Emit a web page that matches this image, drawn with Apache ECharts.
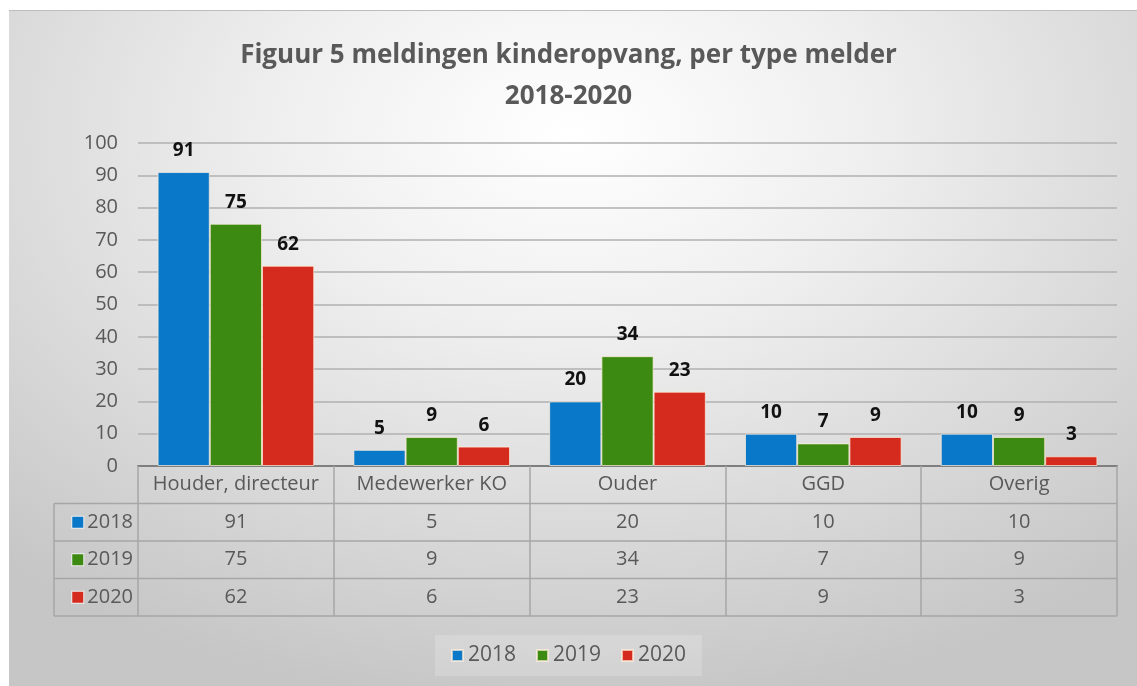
<!DOCTYPE html>
<html>
<head>
<meta charset="utf-8">
<script src="https://cdn.jsdelivr.net/npm/echarts@6/dist/echarts.min.js"></script>
<style>
  html, body { margin: 0; padding: 0; background: #fff; }
  #bg {
    position: absolute; left: 9px; top: 10px; width: 1128px; height: 676px;
    background: radial-gradient(ellipse 75% 85% at 50% 18%, #ffffff 0%, #efefef 35%, #d6d6d6 75%, #c6c6c6 100%);
    border-top: 1px solid #bdbdbd;
  }
  #main { position: absolute; left: 0; top: 0; width: 1137px; height: 686px; }
</style>
</head>
<body>
<div id="bg"></div>
<div id="main"></div>
<script>
// gegevens uit de figuur
var categories = ['Houder, directeur', 'Medewerker KO', 'Ouder', 'GGD', 'Overig'];
var years = ['2018', '2019', '2020'];
var values2018 = [91, 5, 20, 10, 10];
var values2019 = [75, 9, 34, 7, 9];
var values2020 = [62, 6, 23, 9, 3];
var yTicks = [0, 10, 20, 30, 40, 50, 60, 70, 80, 90, 100];

var colors = ['#0a78c8', '#3c8a12', '#d42b1e'];
var allValues = [values2018, values2019, values2020];

var font = 'Open Sans';
var grey = '#595959';
var rowH = 37.5;
var tableTop = 466;
var plotLeft = 138, plotRight = 1117, colLeft = 54;

var myChart = echarts.init(document.getElementById('main'));

// x-assen: 0 = categorieen (kop van de tabel), 1..3 = rijen met waarden
var xAxes = [{
    type: 'category',
    data: categories,
    position: 'bottom',
    axisLine: { lineStyle: { color: '#7f7f7f', width: 2 } },
    axisTick: { show: true, interval: 0, length: rowH * 4, lineStyle: { color: '#a6a6a6', width: 1.5 } },
    axisLabel: { interval: 0, color: grey, fontSize: 20, fontFamily: font, margin: rowH / 2, verticalAlign: 'middle' }
}];
years.forEach(function (y, i) {
    xAxes.push({
        type: 'category',
        data: allValues[i].map(String),
        position: 'bottom',
        offset: rowH * (i + 1) + rowH / 2,
        axisLine: { show: false },
        axisTick: { show: false },
        axisLabel: { interval: 0, color: grey, fontSize: 20, fontFamily: font, margin: 0, verticalAlign: 'middle' },
        name: '{sq|}{t|' + y + '}',
        nameLocation: 'start',
        nameGap: 5,
        nameTextStyle: {
            rich: {
                sq: { width: 11, height: 11, backgroundColor: colors[i], borderColor: '#eee', borderWidth: 1 },
                t: { color: grey, fontSize: 20, fontFamily: font, padding: [0, 0, 0, 4] }
            }
        }
    });
});

// tabelranden
var tableLines = [];
for (var r = 1; r <= 4; r++) {
    var yy = tableTop + rowH * r;
    tableLines.push({ type: 'line', shape: { x1: colLeft, y1: yy, x2: plotRight, y2: yy },
        style: { stroke: '#a6a6a6', lineWidth: 1.5 }, z: 5 });
}
tableLines.push({ type: 'line', shape: { x1: colLeft, y1: tableTop + rowH, x2: colLeft, y2: tableTop + rowH * 4 },
    style: { stroke: '#a6a6a6', lineWidth: 1.5 }, z: 5 });

myChart.setOption({
    textStyle: { fontFamily: font },
    title: {
        text: 'Figuur 5 meldingen kinderopvang, per type melder\n2018-2020',
        left: 'center',
        top: 30,
        textStyle: { color: grey, fontSize: 26, fontWeight: 'bold', fontFamily: font, lineHeight: 41 }
    },
    legend: {
        data: years,
        bottom: 10,
        left: 'center',
        icon: 'rect',
        itemWidth: 11,
        itemHeight: 11,
        itemGap: 20,
        padding: [10, 16],
        backgroundColor: 'rgba(255,255,255,0.18)',
        textStyle: { color: grey, fontSize: 21, fontFamily: font }
    },
    grid: { left: plotLeft, right: 1137 - plotRight, top: 143, bottom: 686 - tableTop, containLabel: false },
    xAxis: xAxes,
    yAxis: {
        type: 'value',
        min: yTicks[0],
        max: yTicks[yTicks.length - 1],
        interval: 10,
        axisLine: { show: false },
        axisTick: { show: false },
        axisLabel: { color: grey, fontSize: 20, fontFamily: font, margin: 20 },
        splitLine: { lineStyle: { color: '#b0b0b0', width: 1.5 } }
    },
    series: years.map(function (y, i) {
        return {
            name: y,
            type: 'bar',
            xAxisIndex: 0,
            data: allValues[i],
            barGap: '0%',
            barCategoryGap: '20%',
            itemStyle: { color: colors[i], borderColor: 'rgba(255,240,220,0.7)', borderWidth: 1 },
            label: { show: true, position: 'top', distance: 12, color: '#111', fontWeight: 'bold', fontSize: 19, fontFamily: font }
        };
    }),
    graphic: tableLines
});
</script>
</body>
</html>
